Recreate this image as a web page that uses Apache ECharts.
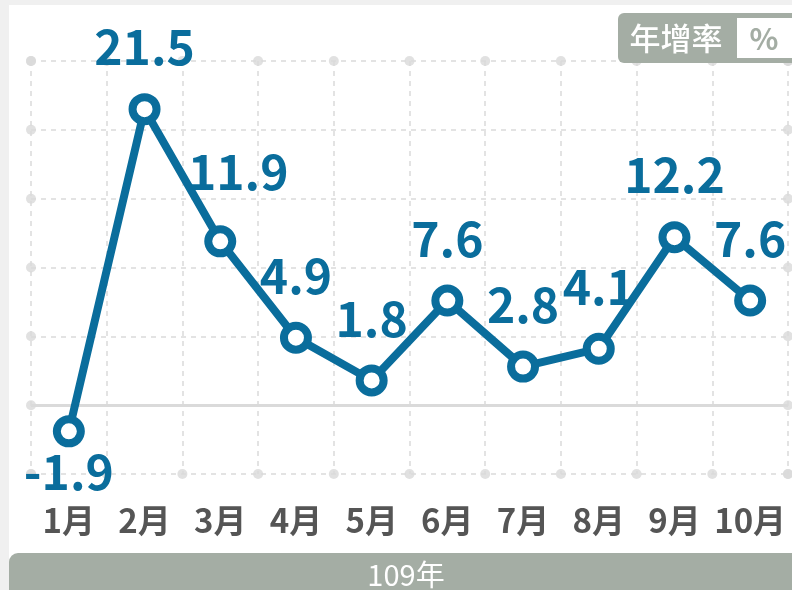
<!DOCTYPE html>
<html>
<head>
<meta charset="utf-8">
<script src="https://cdn.jsdelivr.net/npm/echarts@6/dist/echarts.min.js"></script>
<style>
  html, body { margin: 0; padding: 0; background: #fff; }
  #main { width: 792px; height: 590px; }
</style>
</head>
<body>
<div id="main"></div>
<script>
var chart = echarts.init(document.getElementById('main'));

var months = ['1月', '2月', '3月', '4月', '5月', '6月', '7月', '8月', '9月', '10月'];
var growth = [-1.9, 21.5, 11.9, 4.9, 1.8, 7.6, 2.8, 4.1, 12.2, 7.6];
var yTicks = [-5, 0, 5, 10, 15, 20, 25];

var blue = '#0a6d9c';
var grey = '#a4ada4';
var lineGrey = '#dadada';
var font = '"Noto Sans CJK TC", "Noto Sans", sans-serif';

// 網格線兩端的小圓點
var yMin = yTicks[0], yMax = yTicks[yTicks.length - 1];
var dots = [];
for (var i = 0; i <= months.length; i++) {
    dots.push([i, yMin], [i, yMax]);
}
yTicks.forEach(function (v) {
    dots.push([0, v], [months.length, v]);
});

var labelData = growth.map(function (v, i) {
    var item = { value: v };
    if (v < 0) {
        item.label = { position: 'bottom', distance: 0 };
    }
    if (i === 2) {
        item.label = { offset: [18, -8] };
    }
    return item;
});

option = {
    backgroundColor: '#fff',
    animation: false,
    grid: { left: 31, right: 4, top: 61, bottom: 116 },
    xAxis: [{
        type: 'category',
        data: months,
        boundaryGap: true,
        axisLine: { show: false },
        axisTick: { show: false },
        axisLabel: {
            interval: 0,
            margin: 30,
            fontSize: 33,
            fontWeight: 'bold',
            color: '#555',
            fontFamily: font
        },
        splitLine: {
            show: true,
            interval: 0,
            lineStyle: { color: lineGrey, type: [5, 5], width: 1.5 }
        }
    }, {
        type: 'value',
        show: false,
        min: 0,
        max: months.length
    }],
    yAxis: {
        type: 'value',
        min: yMin,
        max: yMax,
        interval: 5,
        axisLine: { show: false },
        axisTick: { show: false },
        axisLabel: { show: false },
        splitLine: {
            lineStyle: { color: lineGrey, type: [5, 5], width: 1.5 }
        }
    },
    series: [{
        type: 'scatter',
        xAxisIndex: 1,
        data: dots,
        symbolSize: 10,
        itemStyle: { color: lineGrey },
        silent: true,
        z: 1,
        markLine: {
            silent: true,
            symbol: 'none',
            label: { show: false },
            lineStyle: { color: lineGrey, type: 'solid', width: 3 },
            data: [{ yAxis: 0 }]
        }
    }, {
        type: 'line',
        data: labelData,
        symbol: 'circle',
        symbolSize: 24,
        z: 5,
        lineStyle: { color: blue, width: 8 },
        itemStyle: { color: '#fff', borderColor: blue, borderWidth: 8 },
        label: {
            show: true,
            position: 'top',
            distance: 22,
            fontSize: 48,
            fontWeight: 'bold',
            color: blue,
            fontFamily: font
        }
    }],
    graphic: [
        { type: 'rect', shape: { x: 0, y: 0, width: 792, height: 5 }, style: { fill: '#f0f0f0' }, z: 50 },
        { type: 'rect', shape: { x: 0, y: 0, width: 9, height: 590 }, style: { fill: '#f0f0f0' }, z: 50 },
        { type: 'rect', shape: { x: 9, y: 553, width: 790, height: 40, r: [9, 0, 0, 0] }, style: { fill: grey }, z: 50 },
        { type: 'text', x: 406, y: 575, style: { text: '109年', fill: '#fff', fontSize: 29, fontFamily: font, textAlign: 'center', textVerticalAlign: 'middle' }, z: 51 },
        { type: 'rect', shape: { x: 618, y: 13, width: 190, height: 50, r: 6 }, style: { fill: grey }, z: 50 },
        { type: 'rect', shape: { x: 737, y: 18, width: 70, height: 40 }, style: { fill: '#fff' }, z: 51 },
        { type: 'text', x: 676, y: 38, style: { text: '年增率', fill: '#fff', fontSize: 31, fontWeight: 500, fontFamily: font, textAlign: 'center', textVerticalAlign: 'middle' }, z: 52 },
        { type: 'text', x: 764, y: 39, style: { text: '%', fill: grey, fontSize: 30, fontWeight: 'bold', fontFamily: font, textAlign: 'center', textVerticalAlign: 'middle' }, z: 52 }
    ]
};
chart.setOption(option);
</script>
</body>
</html>
